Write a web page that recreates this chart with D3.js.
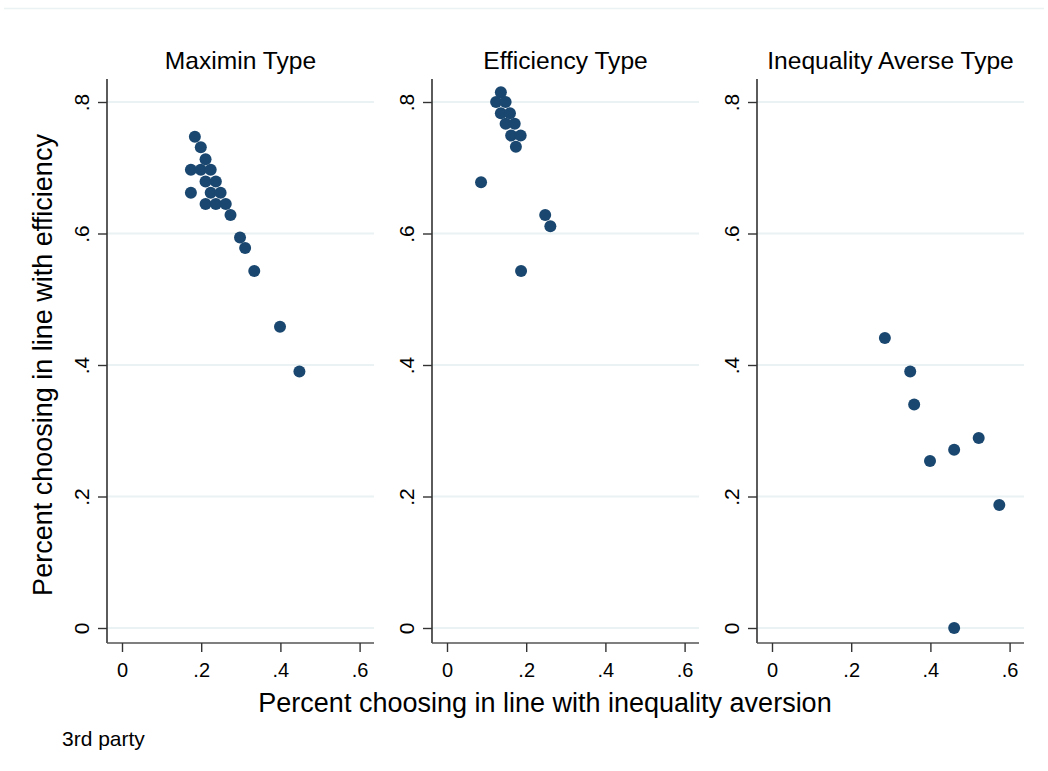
<!DOCTYPE html>
<html>
<head>
<meta charset="utf-8">
<script src="https://cdn.jsdelivr.net/npm/d3@7"></script>
<style>
  body { margin: 0; background: #fff; }
  text { font-family: "Liberation Sans", Arial, Helvetica, sans-serif; fill: #000; }
</style>
</head>
<body>
<script>
// panel titles
var panelTitles = ["Maximin Type", "Efficiency Type", "Inequality Averse Type"];

// x = share choosing in line with inequality aversion, y = share with efficiency
var maximinX = [0.184, 0.199, 0.211, 0.174, 0.199, 0.224, 0.211, 0.237, 0.174, 0.224,
                0.249, 0.211, 0.237, 0.262, 0.274, 0.298, 0.311, 0.334, 0.399, 0.448];
var maximinY = [0.747, 0.731, 0.713, 0.697, 0.697, 0.697, 0.679, 0.679, 0.662, 0.662,
                0.662, 0.645, 0.645, 0.645, 0.628, 0.594, 0.578, 0.543, 0.458, 0.390];

var efficiencyX = [0.136, 0.124, 0.148, 0.136, 0.159, 0.148, 0.171, 0.162, 0.186, 0.174,
                   0.086, 0.248, 0.261, 0.187];
var efficiencyY = [0.815, 0.800, 0.800, 0.783, 0.783, 0.767, 0.767, 0.749, 0.749, 0.732,
                   0.678, 0.628, 0.611, 0.543];

var averseX = [0.285, 0.349, 0.359, 0.522, 0.460, 0.399, 0.574, 0.460];
var averseY = [0.441, 0.390, 0.340, 0.289, 0.271, 0.254, 0.187, 0.000];

var xTicks = [0, 0.2, 0.4, 0.6];
var yTicks = [0, 0.2, 0.4, 0.6, 0.8];

var panels = [
  {title: panelTitles[0], xs: maximinX, ys: maximinY},
  {title: panelTitles[1], xs: efficiencyX, ys: efficiencyY},
  {title: panelTitles[2], xs: averseX, ys: averseY}
];

var W = 1048, H = 771;
var svg = d3.select("body").append("svg").attr("width", W).attr("height", H);

// faint outer border line at top
svg.append("line").attr("x1", 4).attr("x2", 1044).attr("y1", 8.5).attr("y2", 8.5)
  .attr("stroke", "#eaf2f3").attr("stroke-width", 1.5);

var plotTop = 79, plotBottom = 643, plotW = 267;
var panelLeft = [107, 432, 757];

// number format like Stata: 0, .2, .4
function fmt(d) { return d === 0 ? "0" : d3.format(".1f")(d).replace(/^0/, ""); }

var y = d3.scaleLinear().domain([0, 0.8]).range([628, 102]);

panels.forEach(function (p, i) {
  var left = panelLeft[i];
  var x = d3.scaleLinear().domain([0, 0.6]).range([left + 15, left + 252.6]);
  var g = svg.append("g");

  // gridlines
  g.selectAll(".grid").data(yTicks).enter().append("line")
    .attr("x1", left).attr("x2", left + plotW)
    .attr("y1", function (d) { return y(d); }).attr("y2", function (d) { return y(d); })
    .attr("stroke", "#eaf2f3").attr("stroke-width", 2);

  // y axis
  var ya = g.append("g").attr("transform", "translate(" + left + ",0)")
    .call(d3.axisLeft(y).tickValues(yTicks).tickSize(9).tickFormat(fmt));
  ya.select(".domain").attr("d", "M0," + plotTop + "V" + plotBottom)
    .attr("stroke", "#333").attr("stroke-width", 1.6);
  ya.selectAll(".tick line").attr("stroke", "#333").attr("stroke-width", 1.4);
  ya.selectAll(".tick text")
    .attr("x", null).attr("dy", null)
    .attr("transform", "translate(-18,0) rotate(-90)")
    .attr("text-anchor", "middle")
    .style("font-size", "21px");

  // x axis
  var xa = g.append("g").attr("transform", "translate(0," + plotBottom + ")")
    .call(d3.axisBottom(x).tickValues(xTicks).tickSize(9).tickFormat(fmt));
  xa.select(".domain").attr("d", "M" + left + ",0H" + (left + plotW))
    .attr("stroke", "#555").attr("stroke-width", 1.6);
  xa.selectAll(".tick line").attr("stroke", "#333").attr("stroke-width", 1.4);
  xa.selectAll(".tick text").attr("y", 34).attr("dy", null)
    .style("font-size", "20px");

  // points
  g.selectAll("circle").data(p.xs).enter().append("circle")
    .attr("cx", function (d) { return x(d); })
    .attr("cy", function (d, j) { return y(p.ys[j]); })
    .attr("r", 6)
    .attr("fill", "#1a476f");

  // panel title
  g.append("text").attr("x", left + plotW / 2).attr("y", 69)
    .attr("text-anchor", "middle").style("font-size", "24.6px").text(p.title);
});

// axis titles
svg.append("text").attr("x", 545).attr("y", 712).attr("text-anchor", "middle")
  .style("font-size", "27px").text("Percent choosing in line with inequality aversion");
svg.append("text").attr("transform", "translate(52,365) rotate(-90)")
  .attr("text-anchor", "middle").style("font-size", "27px")
  .text("Percent choosing in line with efficiency");

// note
svg.append("text").attr("x", 62).attr("y", 746).style("font-size", "21px").text("3rd party");
</script>
</body>
</html>
